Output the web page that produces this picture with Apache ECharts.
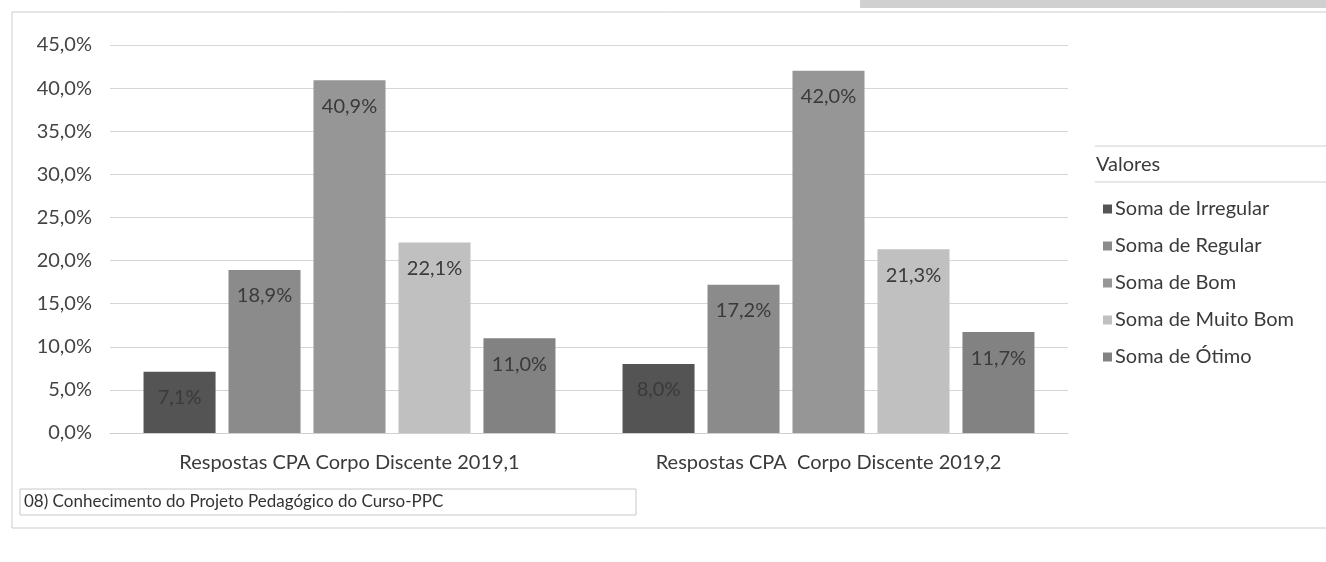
<!DOCTYPE html>
<html>
<head>
<meta charset="utf-8">
<script src="https://cdn.jsdelivr.net/npm/echarts@6/dist/echarts.min.js"></script>
<style>
html,body{margin:0;padding:0;background:#fff;}
#c{width:1326px;height:562px;}
</style>
</head>
<body>
<div id="c"></div>
<script>
const categories = ['Respostas CPA Corpo Discente 2019,1', 'Respostas CPA  Corpo Discente 2019,2'];
const seriesNames = ['Soma de Irregular', 'Soma de Regular', 'Soma de Bom', 'Soma de Muito Bom', 'Soma de Ótimo'];
const irregular = [7.1, 8.0];
const regular = [18.9, 17.2];
const bom = [40.9, 42.0];
const muitoBom = [22.1, 21.3];
const otimo = [11.0, 11.7];
const yTicks = [0, 5, 10, 15, 20, 25, 30, 35, 40, 45];
const legendTitle = 'Valores';
const footnote = '08) Conhecimento do Projeto Pedagógico do Curso-PPC';

const colors = ['#545454', '#8b8b8b', '#969696', '#c0c0c0', '#828282'];
const values = [irregular, regular, bom, muitoBom, otimo];
const fmt = v => v.toFixed(1).replace('.', ',') + '%';
const font = 'Lato, "Open Sans", sans-serif';

const chart = echarts.init(document.getElementById('c'));
chart.setOption({
  backgroundColor: '#ffffff',
  animation: false,
  textStyle: {fontFamily: font},
  grid: {left: 110, right: 258, top: 45, bottom: 129},
  legend: {
    orient: 'vertical',
    left: 1098,
    top: 194,
    itemWidth: 9,
    itemHeight: 9,
    itemGap: 17,
    icon: 'rect',
    data: seriesNames,
    textStyle: {fontSize: 20, lineHeight: 20, color: '#3a3a3a', fontFamily: font, padding: [0, 0, 0, -2]}
  },
  xAxis: {
    type: 'category',
    data: categories,
    axisLine: {lineStyle: {color: '#cfcfcf'}},
    axisTick: {show: false},
    axisLabel: {fontSize: 20, color: '#3a3a3a', margin: 20, fontFamily: font}
  },
  yAxis: {
    type: 'value',
    min: yTicks[0],
    max: yTicks[yTicks.length - 1],
    interval: 5,
    axisLine: {show: false},
    axisTick: {show: false},
    axisLabel: {fontSize: 20, color: '#444', margin: 18, formatter: v => fmt(v), fontFamily: font},
    splitLine: {lineStyle: {color: '#d6d6d6'}}
  },
  series: seriesNames.map((name, i) => ({
    name: name,
    type: 'bar',
    data: values[i],
    barGap: '18%',
    barCategoryGap: '14%',
    itemStyle: {color: colors[i]},
    label: {
      show: true,
      position: 'insideTop',
      distance: 16,
      formatter: p => fmt(p.value),
      fontSize: 20,
      color: '#3a3a3a',
      fontFamily: font
    }
  })),
  graphic: [
    {type: 'rect', shape: {x: 12, y: 12, width: 1330, height: 516}, style: {fill: 'none', stroke: '#cccccc', lineWidth: 1}, silent: true},
    {type: 'rect', shape: {x: 860, y: 0, width: 466, height: 8}, style: {fill: '#d0d0d0'}, silent: true},
    {type: 'line', shape: {x1: 1095, y1: 146, x2: 1326, y2: 146}, style: {stroke: '#d0d0d0', lineWidth: 1}},
    {type: 'line', shape: {x1: 1095, y1: 182, x2: 1326, y2: 182}, style: {stroke: '#d0d0d0', lineWidth: 1}},
    {type: 'text', x: 1096, y: 165, style: {text: legendTitle, fontSize: 20, fill: '#3a3a3a', fontFamily: font, textVerticalAlign: 'middle'}},
    {type: 'rect', shape: {x: 20, y: 489, width: 616, height: 26}, style: {fill: 'none', stroke: '#c8c8c8', lineWidth: 1}},
    {type: 'text', x: 24, y: 502, style: {text: footnote, fontSize: 17, fill: '#333', fontFamily: font, textVerticalAlign: 'middle'}}
  ]
});
</script>
</body>
</html>
